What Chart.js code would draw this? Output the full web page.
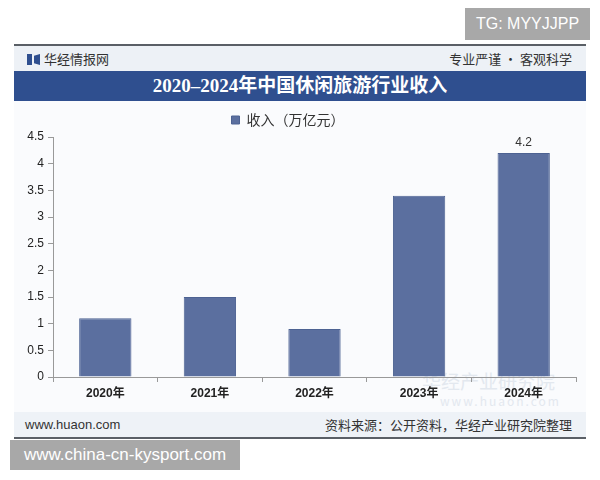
<!DOCTYPE html>
<html><head><meta charset="utf-8">
<script src="https://cdn.jsdelivr.net/npm/chart.js@4/dist/chart.umd.min.js"></script>
<style>
html,body{margin:0;padding:0;background:#fff;width:600px;height:480px;overflow:hidden;font-family:"Liberation Sans","Noto Sans CJK SC",sans-serif;}
.abs{position:absolute;}
#frame{left:14px;top:45px;width:572px;height:393px;background:#fafbfd;}
#topline{left:14px;top:44px;width:572px;height:2px;background:#5a5f66;}
#botline{left:14px;top:437px;width:572px;height:2px;background:#5a5f66;}
#hdr{left:14px;top:46px;width:572px;height:25px;background:#edf1f6;}
#titlebar{left:14px;top:71px;width:572px;height:30px;background:#2f4f8f;color:#fff;text-align:center;line-height:30px;font-family:"Liberation Serif","Noto Sans CJK SC",serif;font-weight:bold;font-size:19px;}
#ftr{left:14px;top:412px;width:572px;height:25px;background:#eef2f7;}
.t13{font-size:13px;color:#333;font-family:"Noto Sans CJK SC",sans-serif;}
#gray1{left:465px;top:8px;width:125px;height:32px;background:#a8a8a8;color:#fff;font-size:16px;line-height:32px;text-align:center;}
#gray2{left:10px;top:440px;width:230px;height:30px;background:#a8a8a8;color:#fff;font-size:17px;line-height:30px;text-align:center;}
#c{position:absolute;left:0;top:96px;}
.wm{color:#e3e8ef;font-family:"Noto Sans CJK SC",sans-serif;}
</style></head>
<body>
<div id="frame" class="abs"></div>
<div id="hdr" class="abs"></div>
<div id="topline" class="abs"></div>
<div class="abs" style="left:27px;top:54px;width:5px;height:11px;background:#2f4f8f;"></div>
<div class="abs" style="left:34px;top:54px;width:6px;height:11px;background:#2f4f8f;clip-path:polygon(0 15%,100% 0,100% 100%,0 85%);"></div>
<div class="abs t13" style="left:44px;top:50px;line-height:17px;">华经情报网</div>
<div class="abs t13" style="right:28px;top:50px;line-height:17px;">专业严谨 • 客观科学</div>
<div id="titlebar" class="abs">2020–2024年中国休闲旅游行业收入</div>
<div class="abs wm" style="left:422px;top:370px;font-size:19px;line-height:22px;">华经产业研究院</div>
<div class="abs wm" style="left:440px;top:394px;font-size:12px;line-height:14px;letter-spacing:2px;">www.huaon.com</div>
<div id="ftr" class="abs"></div>
<div id="botline" class="abs"></div>
<div class="abs" style="left:25px;top:416px;font-size:13px;color:#333;line-height:18px;">www.huaon.com</div>
<div class="abs t13" style="right:28px;top:416px;line-height:18px;">资料来源：公开资料，华经产业研究院整理</div>
<div id="gray1" class="abs">TG: MYYJJPP</div>
<div id="gray2" class="abs">www.china-cn-kysport.com</div>
<canvas id="c" width="600" height="313"></canvas>
<script>
const categories = ["2020年","2021年","2022年","2023年","2024年"];
const revenue = [1.1, 1.5, 0.9, 3.4, 4.2];
const showLabel = [false, false, false, false, true];
const seriesName = "收入（万亿元）";
const yTicks = [0,0.5,1,1.5,2,2.5,3,3.5,4,4.5];

const labelPlugin = {
  id:'lbl',
  afterDatasetsDraw(chart){
    const ctx = chart.ctx;
    const meta = chart.getDatasetMeta(0);
    ctx.save();
    ctx.font = '12px "Liberation Sans", sans-serif';
    ctx.fillStyle = '#333';
    ctx.textAlign = 'center';
    ctx.textBaseline = 'bottom';
    meta.data.forEach((bar,i)=>{
      if(showLabel[i]) ctx.fillText(String(revenue[i]), bar.x, bar.y - 4);
    });
    ctx.restore();
  }
};

new Chart(document.getElementById('c'), {
  type:'bar',
  data:{labels:categories, datasets:[{label:seriesName, data:revenue, backgroundColor:'#5b6f9f', borderColor:'#4d6292', borderWidth:1, categoryPercentage:1, barPercentage:0.5}]},
  options:{
    responsive:false, animation:false,
    layout:{padding:{left:0,right:24,top:0,bottom:0}},
    plugins:{
      legend:{display:true, position:'top', labels:{boxWidth:8, boxHeight:8, color:'#333', font:{size:14, family:'"Noto Sans CJK SC", sans-serif'}, padding:17}},
      tooltip:{enabled:false}
    },
    scales:{
      x:{
        grid:{display:true, drawOnChartArea:false, drawTicks:true, tickLength:5, color:'#999', offset:true},
        border:{display:true, color:'#999'},
        ticks:{color:'#222', font:{size:12, weight:'bold', family:'"Liberation Sans","Noto Sans CJK SC", sans-serif'}, padding:4},
        afterFit(s){ s.height = 32; }
      },
      y:{
        min:0, max:4.5,
        afterBuildTicks(s){ s.ticks = yTicks.map(v=>({value:v})); },
        grid:{display:true, drawOnChartArea:false, drawTicks:true, tickLength:5, color:'#999'},
        border:{display:true, color:'#999'},
        ticks:{color:'#222', font:{size:12, family:'"Liberation Sans", sans-serif'}, padding:4, callback:(v)=>String(v)},
        afterFit(s){ s.width = 53; }
      }
    }
  },
  plugins:[labelPlugin]
});
</script>
</body></html>
